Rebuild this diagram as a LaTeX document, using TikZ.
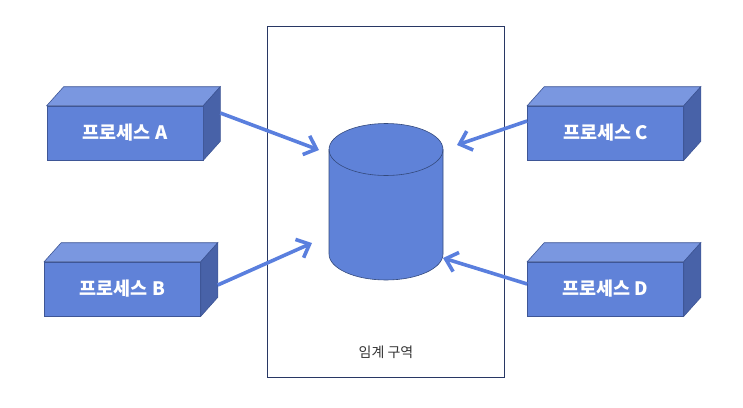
\documentclass[tikz,border=0pt]{standalone}
\usepackage{fontspec}
\newfontfamily\kr{Noto Sans CJK KR}
\usetikzlibrary{arrows.meta,calc}
\definecolor{frontc}{RGB}{96,130,216}
\definecolor{topc}{RGB}{122,151,224}
\definecolor{sidec}{RGB}{72,98,168}
\definecolor{edgec}{RGB}{62,86,150}
\definecolor{arrowc}{RGB}{90,127,222}
\definecolor{cylc}{RGB}{95,130,216}
\definecolor{cyledge}{RGB}{52,74,125}
\definecolor{framec}{RGB}{40,55,100}
\tikzset{
  front/.style={draw=edgec, line width=0.6pt, fill=frontc, minimum width=156pt, minimum height=54pt, inner sep=0pt,
    text=white, font=\kr\bfseries\fontsize{18.5}{18.5}\selectfont},
  topface/.style={draw=edgec, line width=0.6pt, fill=topc},
  sideface/.style={draw=edgec, line width=0.6pt, fill=sidec},
  conn/.style={draw=arrowc, line width=3.6pt, -{Straight Barb[length=11pt,width=20pt,line width=3.6pt]}},
}
\newcommand\procbox[3]{% name, center, label
  \node[front] (#1) at #2 {#3};
  \path[topface] (#1.north west) -- ++(17,-19) -- ($(#1.north east)+(17,-19)$) -- (#1.north east) -- cycle;
  \path[sideface] (#1.north east) -- ++(17,-19) -- ($(#1.south east)+(17,-19)$) -- (#1.south east) -- cycle;
}
\begin{document}
\begin{tikzpicture}[x=1pt,y=-1pt]
\useasboundingbox (0,0) rectangle (743,407);
% critical region frame
\node[draw=framec, line width=0.8pt, minimum width=237pt, minimum height=351pt, inner sep=0pt] (frame) at (385.5,201.5) {};
\node[font=\kr\fontsize{14}{14}\selectfont, text=black!80] (crit) at (386,352) {임계 구역};
% cylinder
\path[fill=cylc, draw=cyledge, line width=0.6pt]
  (329,149.5) -- (329,254) arc[start angle=180, end angle=0, x radius=57, y radius=26] -- (443,149.5)
  arc[start angle=0, end angle=-180, x radius=57, y radius=26] -- cycle;
\draw[cyledge, line width=0.6pt] (329,149.5) arc[start angle=180, end angle=0, x radius=57, y radius=26];
% boxes
\procbox{pa}{(125,133)}{프로세스 A}
\procbox{pb}{(122.5,289)}{프로세스 B}
\procbox{pc}{(605.5,133)}{프로세스 C}
\procbox{pd}{(605.5,289)}{프로세스 D}
% arrow tips
\coordinate (ta) at (319,150);
\coordinate (tb) at (312,243);
\coordinate (tc) at (457,145);
\coordinate (td) at (443,258);
\draw[conn] ($(pa.east)+(17,-20)$) -- (ta);
\draw[conn] ($(pb.east)+(17,-4)$) -- (tb);
\draw[conn] ($(pc.west)+(0,-12)$) -- (tc);
\draw[conn] ($(pd.west)+(0,-5)$) -- (td);
\end{tikzpicture}
\end{document}
